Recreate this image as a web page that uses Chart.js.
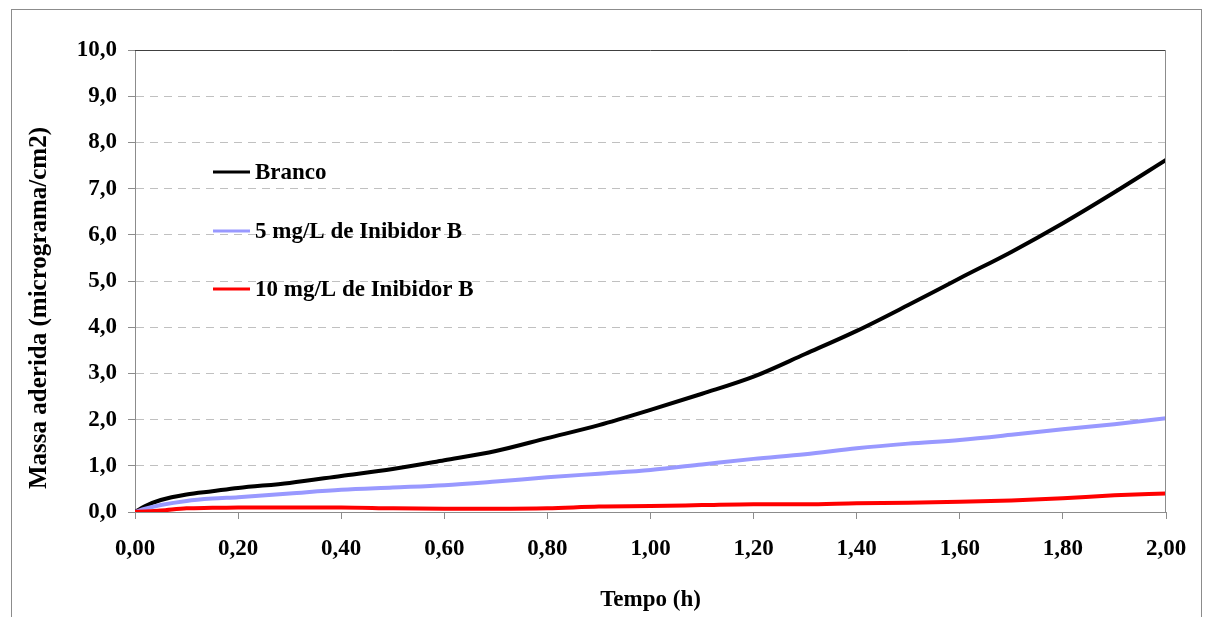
<!DOCTYPE html>
<html>
<head>
<meta charset="utf-8">
<script src="https://cdn.jsdelivr.net/npm/chart.js@4/dist/chart.umd.min.js"></script>
<style>
html,body{margin:0;padding:0;background:#fff;}
#wrap{position:relative;width:1205px;height:617px;}
</style>
</head>
<body>
<div id="wrap"><canvas id="c" width="1205" height="617"></canvas></div>
<script>
// Time (h)
const tempo   = [0, 0.02, 0.05, 0.1, 0.15, 0.2, 0.3, 0.4, 0.5, 0.6, 0.7, 0.8, 0.9, 1.0, 1.1, 1.2, 1.3, 1.4, 1.5, 1.6, 1.7, 1.8, 1.9, 2.0];
// Massa aderida (micrograma/cm2)
const branco  = [0, 0.13, 0.26, 0.38, 0.45, 0.52, 0.63, 0.78, 0.93, 1.12, 1.32, 1.60, 1.88, 2.21, 2.56, 2.93, 3.42, 3.92, 4.48, 5.06, 5.63, 6.25, 6.92, 7.62];
const inib5   = [0, 0.07, 0.15, 0.24, 0.29, 0.32, 0.40, 0.48, 0.53, 0.58, 0.66, 0.75, 0.83, 0.91, 1.03, 1.15, 1.25, 1.38, 1.48, 1.56, 1.67, 1.79, 1.90, 2.03];
const inib10  = [0, 0.01, 0.03, 0.08, 0.09, 0.10, 0.10, 0.10, 0.08, 0.07, 0.07, 0.08, 0.12, 0.13, 0.15, 0.17, 0.17, 0.19, 0.20, 0.22, 0.25, 0.30, 0.36, 0.40];

const seriesNames  = ['Branco', '5 mg/L de Inibidor B', '10 mg/L de Inibidor B'];
const seriesColors = ['#000000', '#9999ff', '#ff0000'];
const seriesValues = [branco, inib5, inib10];

const yTitle = 'Massa aderida (micrograma/cm2)';
const xTitle = 'Tempo (h)';

const FONT = "'Liberation Serif', 'Times New Roman', serif";

const datasets = seriesValues.map((vals, i) => ({
  label: seriesNames[i],
  data: tempo.map((t, k) => ({x: t, y: vals[k]})),
  borderColor: seriesColors[i],
  backgroundColor: seriesColors[i],
  borderWidth: 4,
  pointRadius: 0,
  tension: 0.3,
  cubicInterpolationMode: 'monotone',
  order: 3 - i
}));

const decorPlugin = {
  id: 'decor',
  beforeDraw(chart) {
    const ctx = chart.ctx;
    ctx.save();
    ctx.fillStyle = '#fff';
    ctx.fillRect(0, 0, chart.width, chart.height);
    ctx.strokeStyle = '#8c8c8c';
    ctx.lineWidth = 1;
    ctx.strokeRect(11.5, 9.5, 1190, 700);
    ctx.restore();
  },
  afterDatasetsDraw(chart) {
    const ctx = chart.ctx;
    const a = chart.chartArea;
    ctx.save();
    // plot frame top and right
    ctx.lineWidth = 1;
    ctx.strokeStyle = '#404040';
    ctx.beginPath();
    ctx.moveTo(a.left, a.top + 0.5);
    ctx.lineTo(a.right, a.top + 0.5);
    ctx.stroke();
    ctx.strokeStyle = '#8c8c8c';
    ctx.beginPath();
    ctx.moveTo(a.right - 0.5, a.top);
    ctx.lineTo(a.right - 0.5, a.bottom);
    ctx.stroke();
    // legend
    const ys = [172, 231, 289];
    ctx.font = 'bold 23px ' + FONT;
    ctx.textBaseline = 'middle';
    ctx.textAlign = 'left';
    seriesNames.forEach((name, i) => {
      ctx.strokeStyle = seriesColors[i];
      ctx.lineWidth = 3;
      ctx.beginPath();
      ctx.moveTo(213, ys[i]);
      ctx.lineTo(250, ys[i]);
      ctx.stroke();
      ctx.fillStyle = '#000';
      ctx.fillText(name, 255, ys[i] + 1);
    });
    // y title
    ctx.translate(40, 308);
    ctx.rotate(-Math.PI / 2);
    ctx.textAlign = 'center';
    ctx.font = 'bold 25px ' + FONT;
    ctx.fillText(yTitle, 0, 0);
    ctx.restore();
  }
};

new Chart(document.getElementById('c'), {
  type: 'line',
  data: { datasets },
  options: {
    responsive: false,
    animation: false,
    layout: { padding: { left: 0, top: 50, right: 39, bottom: 0 } },
    plugins: { legend: { display: false }, tooltip: { enabled: false } },
    scales: {
      x: {
        type: 'linear',
        min: 0, max: 2,
        afterFit(s) { s.height = 105; },
        ticks: {
          stepSize: 0.2,
          padding: 16,
          color: '#000',
          font: { family: FONT, size: 23, weight: 'bold' },
          maxRotation: 0,
          callback: v => v.toFixed(2).replace('.', ',')
        },
        grid: { drawOnChartArea: false, drawTicks: true, tickLength: 7, tickColor: '#8c8c8c' },
        border: { color: '#8c8c8c', width: 1 },
        title: {
          display: true, text: xTitle, color: '#000',
          font: { family: FONT, size: 23, weight: 'bold' },
          padding: { top: 0, bottom: 3 }
        }
      },
      y: {
        min: 0, max: 10,
        afterFit(s) { s.width = 135; },
        ticks: {
          stepSize: 1,
          padding: 11,
          color: '#000',
          font: { family: FONT, size: 23, weight: 'bold' },
          callback: v => v.toFixed(1).replace('.', ',')
        },
        grid: { color: '#c0c0c0', lineWidth: 1, tickLength: 7, tickColor: '#8c8c8c', tickBorderDash: [] },
        border: { color: '#8c8c8c', width: 1, dash: [8, 6] }
      }
    }
  },
  plugins: [decorPlugin]
});
</script>
</body>
</html>
